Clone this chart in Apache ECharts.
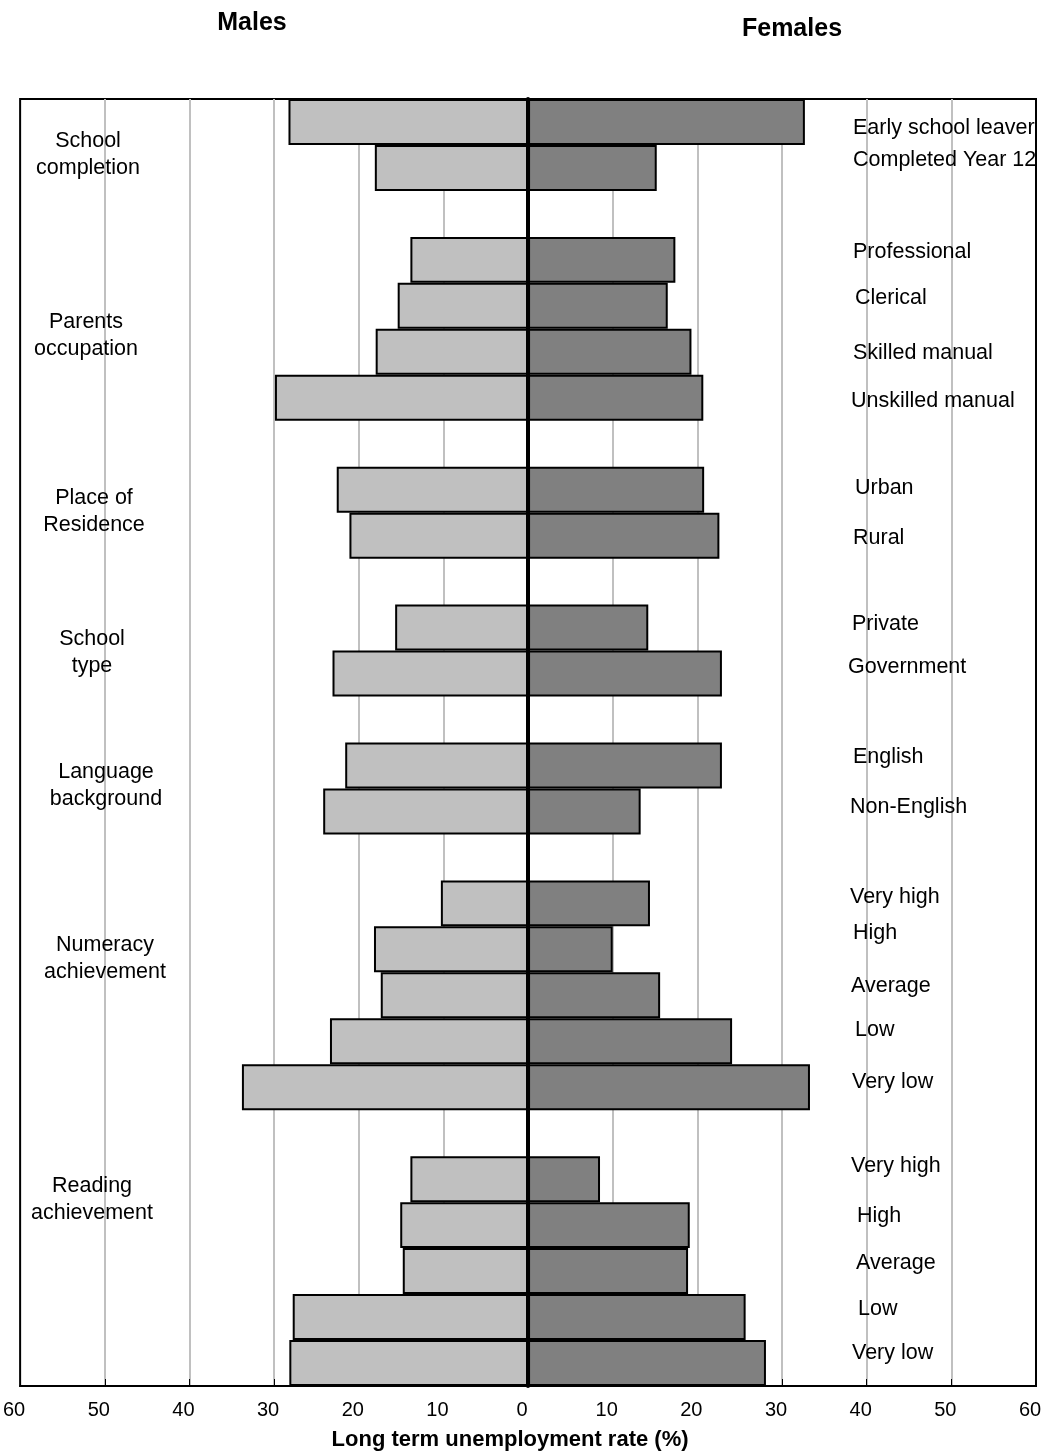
<!DOCTYPE html>
<html>
<head>
<meta charset="utf-8">
<script src="https://cdn.jsdelivr.net/npm/echarts@6/dist/echarts.min.js"></script>
<style>
  html, body { margin: 0; padding: 0; background: #fff; overflow: hidden; }
  #chart { width: 1047px; height: 1456px; }
</style>
</head>
<body>
<div id="chart"></div>
<script>
// categories top to bottom, '' = gap row between groups
const categories = [
  'Early school leaver', 'Completed Year 12', '',
  'Professional', 'Clerical', 'Skilled manual', 'Unskilled manual', '',
  'Urban', 'Rural', '',
  'Private', 'Government', '',
  'English', 'Non-English', '',
  'Very high', 'High', 'Average', 'Low', 'Very low', '',
  'Very high', 'High', 'Average', 'Low', 'Very low'
]
const males = [
  28.3, 18.1, null,
  13.9, 15.4, 18.0, 29.9, null,
  22.6, 21.1, null,
  15.7, 23.1, null,
  21.6, 24.2, null,
  10.3, 18.2, 17.4, 23.4, 33.8, null,
  13.9, 15.1, 14.8, 27.8, 28.2
]
const females = [
  32.7, 15.2, null,
  17.4, 16.5, 19.3, 20.7, null,
  20.8, 22.6, null,
  14.2, 22.9, null,
  22.9, 13.3, null,
  14.4, 10.0, 15.6, 24.1, 33.3, null,
  8.5, 19.1, 18.9, 25.7, 28.1
]
const groupNames = [
  'School\ncompletion', 'Parents\noccupation', 'Place of\nResidence',
  'School\ntype', 'Language\nbackground', 'Numeracy\nachievement', 'Reading\nachievement'
]
const xTicks = [-60, -50, -40, -30, -20, -10, 0, 10, 20, 30, 40, 50, 60]

// layout tweaks: the source labels are not quite lined up with their bars
// [dx, dy] in px for each right-hand label
const labelNudge = [
  [5, 6], [5, -8], [0, 0],
  [5, -8], [7, -8], [5, 1], [3, 3], [0, 0],
  [7, -2], [5, 2], [0, 0],
  [4, -4], [0, -6], [0, 0],
  [5, -8], [2, -4], [0, 0],
  [2, -6], [5, -16], [3, -9], [7, -11], [4, -5], [0, 0],
  [3, -13], [9, -9], [8, -8], [10, -8], [4, -10]
]
// centre of each group label block
const groupPos = [[88, 155], [86, 336], [94, 512], [92, 653], [106, 786], [105, 959], [92, 1200]]

const font = 'Liberation Sans, Arial, sans-serif'
const labelSize = 21.5

const rich = {}
labelNudge.forEach((d, i) => {
  rich['n' + i] = {
    fontSize: labelSize,
    fontFamily: font,
    color: '#000',
    padding: [Math.max(0, 2 * d[1]), 0, Math.max(0, -2 * d[1]), d[0]]
  }
})

const myChart = echarts.init(document.getElementById('chart'))

myChart.setOption({
  animation: false,
  textStyle: { fontFamily: font },
  grid: {
    left: 20, right: 11, top: 99, bottom: 69,
    show: true, borderColor: '#000', borderWidth: 2, backgroundColor: 'transparent'
  },
  xAxis: {
    type: 'value',
    min: xTicks[0],
    max: xTicks[xTicks.length - 1],
    interval: 10,
    name: 'Long term unemployment rate (%)',
    nameLocation: 'middle',
    nameGap: 43,
    nameTextStyle: { fontSize: 22, fontWeight: 'bold', color: '#000', padding: [0, 36, 0, 0] },
    axisLine: { show: true, onZero: false, lineStyle: { color: '#000', width: 2 } },
    axisTick: { show: true, inside: true, length: 7, lineStyle: { color: '#000', width: 1 } },
    axisLabel: {
      fontSize: 20, color: '#000', margin: 14,
      padding: [0, 12, 0, 0],
      formatter: v => Math.abs(v)
    },
    splitLine: {
      show: true, showMinLine: false, showMaxLine: false,
      lineStyle: { color: '#c0c0c0', width: 2 }
    }
  },
  yAxis: [
    {
      type: 'category',
      data: categories,
      inverse: true,
      axisLine: { show: true, onZero: true, lineStyle: { color: '#000', width: 4 } },
      axisTick: { show: false },
      axisLabel: { show: false },
      splitLine: { show: false },
      z: 10
    },
    {
      type: 'category',
      data: categories,
      inverse: true,
      position: 'right',
      offset: -188,
      axisLine: { show: false },
      axisTick: { show: false },
      axisLabel: {
        show: true, interval: 0, margin: 0, align: 'left',
        formatter: (v, i) => (v ? '{n' + i + '|' + v + '}' : ''),
        rich: rich
      },
      splitLine: { show: false }
    }
  ],
  series: [
    {
      name: 'Males',
      type: 'bar',
      data: males.map(v => (v == null ? null : -v)),
      barCategoryGap: 0,
      barGap: '-100%',
      itemStyle: { color: '#c0c0c0', borderColor: '#000', borderWidth: 2 }
    },
    {
      name: 'Females',
      type: 'bar',
      data: females,
      barCategoryGap: 0,
      barGap: '-100%',
      itemStyle: { color: '#808080', borderColor: '#000', borderWidth: 2 }
    }
  ],
  graphic: [
    {
      type: 'text', x: 252, y: 23, z: 100,
      style: { text: 'Males', fontSize: 25, fontWeight: 'bold', fontFamily: font, fill: '#000', align: 'center', verticalAlign: 'middle' }
    },
    {
      type: 'text', x: 792, y: 29, z: 100,
      style: { text: 'Females', fontSize: 25, fontWeight: 'bold', fontFamily: font, fill: '#000', align: 'center', verticalAlign: 'middle' }
    }
  ].concat(groupNames.map((name, i) => ({
    type: 'text',
    x: groupPos[i][0],
    y: groupPos[i][1],
    z: 100,
    style: {
      text: name,
      fontSize: labelSize,
      fontFamily: font,
      fill: '#000',
      align: 'center',
      verticalAlign: 'middle',
      lineHeight: 27
    }
  })))
})
</script>
</body>
</html>
